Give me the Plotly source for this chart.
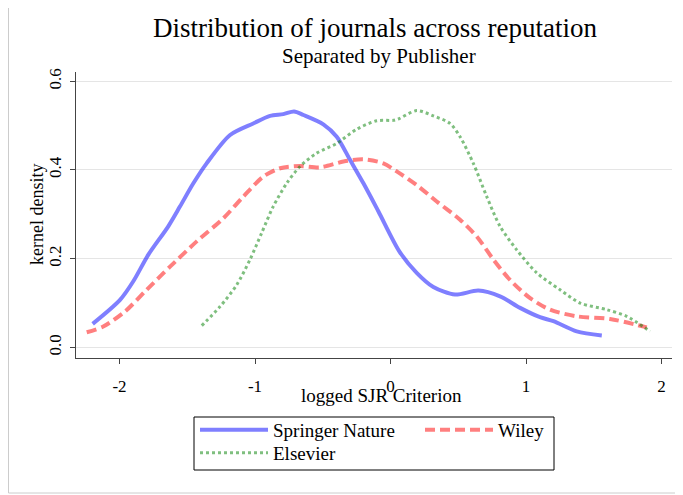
import plotly.graph_objects as go

# ---- data ----
sn_x = [-2.198, -1.996, -1.898, -1.787, -1.640, -1.553, -1.455, -1.357, -1.184, -1.013,
        -0.889, -0.791, -0.712, -0.643, -0.496, -0.397, -0.299, -0.200, -0.090, 0.066,
        0.193, 0.316, 0.476, 0.648, 0.808, 0.956, 1.103, 1.202, 1.374, 1.559]
sn_y = [0.053, 0.107, 0.149, 0.209, 0.273, 0.318, 0.370, 0.415, 0.479, 0.505,
        0.522, 0.526, 0.532, 0.524, 0.503, 0.475, 0.423, 0.370, 0.307, 0.216,
        0.168, 0.136, 0.119, 0.128, 0.115, 0.089, 0.068, 0.059, 0.036, 0.027]

wi_x = [-2.242, -2.120, -1.959, -1.799, -1.627, -1.430, -1.234, -1.086, -0.939, -0.815,
        -0.668, -0.520, -0.348, -0.200, -0.053, 0.040, 0.193, 0.341, 0.513, 0.636,
        0.759, 0.882, 1.030, 1.177, 1.374, 1.620, 1.891]
wi_y = [0.034, 0.047, 0.081, 0.130, 0.182, 0.239, 0.291, 0.340, 0.385, 0.404,
        0.409, 0.406, 0.419, 0.424, 0.415, 0.398, 0.366, 0.329, 0.288, 0.250,
        0.198, 0.152, 0.111, 0.085, 0.070, 0.064, 0.045]

el_x = [-1.393, -1.258, -1.135, -1.037, -0.951, -0.865, -0.766, -0.668, -0.545, -0.397,
        -0.249, -0.102, 0.021, 0.058, 0.193, 0.316, 0.439, 0.513, 0.611, 0.710,
        0.808, 0.931, 1.079, 1.251, 1.399, 1.596, 1.743, 1.915]
el_y = [0.049, 0.092, 0.141, 0.198, 0.258, 0.318, 0.370, 0.408, 0.438, 0.460,
        0.492, 0.511, 0.512, 0.515, 0.534, 0.522, 0.505, 0.475, 0.415, 0.340,
        0.273, 0.220, 0.168, 0.130, 0.100, 0.085, 0.070, 0.036]

x_ticks = [-2, -1, 0, 1, 2]
x_tick_labels = ["-2", "-1", "0", "1", "2"]
y_ticks = [0.0, 0.2, 0.4, 0.6]
y_tick_labels = ["0.0", "0.2", "0.4", "0.6"]

FONT = "Liberation Serif"

# geometry: the page has an 8px body margin, so screen = figure + 8
OFF = 8
W, H = 675, 487
L, T = 76 - OFF, 72 - OFF
pw, ph = 596, 286
R, B = W - L - pw, H - T - ph

def px_x(sx):
    return (sx - OFF - L) / pw

def px_y(sy):
    return (T + ph - (sy - OFF)) / ph

fig = go.Figure()
fig.add_trace(go.Scatter(x=sn_x, y=sn_y, mode="lines", name="Springer Nature",
                         line=dict(color="rgba(0,0,255,0.5)", width=4, shape="spline", smoothing=0.8),
                         legend="legend"))
fig.add_trace(go.Scatter(x=wi_x, y=wi_y, mode="lines", name="Wiley",
                         line=dict(color="rgba(255,0,0,0.5)", width=4, dash="10px,5px",
                                   shape="spline", smoothing=0.8),
                         legend="legend2"))
fig.add_trace(go.Scatter(x=el_x, y=el_y, mode="lines", name="Elsevier",
                         line=dict(color="rgba(0,128,0,0.5)", width=3, dash="3px,3px",
                                   shape="spline", smoothing=0.8),
                         legend="legend3"))

leg_common = dict(orientation="v", xanchor="left", yanchor="middle",
                  bgcolor="rgba(0,0,0,0)", borderwidth=0, font=dict(size=19),
                  itemwidth=68, tracegroupgap=0)

fig.update_layout(
    width=W, height=H, autosize=False,
    margin=dict(l=L, r=R, t=T, b=B, autoexpand=False),
    paper_bgcolor="white", plot_bgcolor="white",
    font=dict(family=FONT, color="black", size=17),
    title=dict(text="Distribution of journals across reputation",
               font=dict(family=FONT, size=27, color="black"),
               xref="paper", x=px_x(375), xanchor="center",
               yref="container", y=1 - 20 / H, yanchor="middle"),
    xaxis=dict(range=[-2.321, 2.077], tickvals=x_ticks, ticktext=x_tick_labels,
               showgrid=False, zeroline=False, showline=True, linecolor="#444", linewidth=1,
               ticks="outside", ticklen=5, tickcolor="#444", automargin=False,
               ticklabelstandoff=8, tickfont=dict(size=17)),
    yaxis=dict(range=[-0.024, 0.621], tickvals=y_ticks, ticktext=y_tick_labels,
               showgrid=True, gridcolor="#e5e5e5", gridwidth=1, zeroline=False,
               showline=True, linecolor="#444", linewidth=1, automargin=False,
               ticks="outside", ticklen=5, tickcolor="#444", tickangle=-90,
               ticklabelstandoff=2, tickfont=dict(size=17)),
    legend=dict(x=px_x(195), y=px_y(430), **leg_common),
    legend2=dict(x=px_x(420), y=px_y(430), **leg_common),
    legend3=dict(x=px_x(195), y=px_y(453), **leg_common),
    showlegend=True,
)

# subtitle
fig.add_annotation(text="Separated by Publisher", xref="paper", yref="paper",
                   x=px_x(379), y=px_y(56), xanchor="center", yanchor="middle",
                   showarrow=False, font=dict(family=FONT, size=21, color="black"))

# axis titles
fig.add_annotation(text="logged SJR Criterion", xref="paper", yref="paper",
                   x=px_x(381), y=px_y(395), xanchor="center", yanchor="middle",
                   showarrow=False, font=dict(family=FONT, size=19, color="black"))
fig.add_annotation(text="kernel density", xref="paper", yref="paper", textangle=-90,
                   x=px_x(37), y=px_y(215), xanchor="center", yanchor="middle",
                   showarrow=False, font=dict(family=FONT, size=18, color="black"))

# legend frame
fig.add_shape(type="rect", xref="paper", yref="paper",
              x0=px_x(194), x1=px_x(554), y0=px_y(470), y1=px_y(417),
              line=dict(color="black", width=1), fillcolor="rgba(0,0,0,0)", layer="below")

# outer image frame (left and bottom edges)
fig.add_shape(type="line", xref="paper", yref="paper",
              x0=px_x(8.5), x1=px_x(8.5), y0=px_y(493), y1=px_y(8),
              line=dict(color="#cccccc", width=1))
fig.add_shape(type="line", xref="paper", yref="paper",
              x0=px_x(8.5), x1=px_x(683), y0=px_y(493), y1=px_y(493),
              line=dict(color="#cccccc", width=1))

fig.write_html("out.html")
